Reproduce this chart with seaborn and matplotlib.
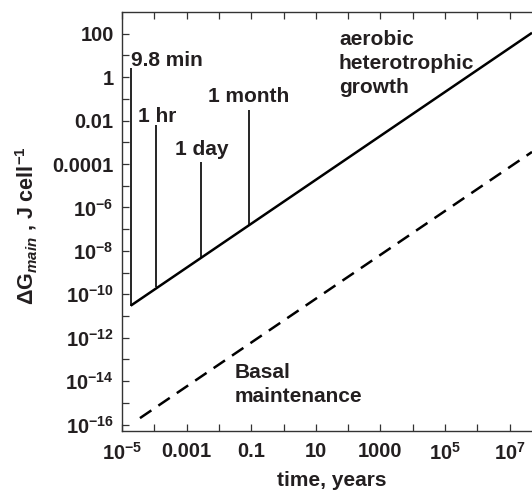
import numpy as np
import pandas as pd
import matplotlib
matplotlib.use("Agg")
import matplotlib.pyplot as plt
import seaborn as sns

# ---- data ----
growth_t = [1.86e-5, 4.9e7]          # years
growth_g = [3.0e-11, 1.1e2]          # J cell^-1
basal_t = [3.6e-5, 4.9e7]
basal_g = [2.0e-16, 3.6e-4]

marker_names = ["9.8 min", "1 hr", "1 day", "1 month"]
marker_t = [1.86e-5, 1.14e-4, 2.74e-3, 8.33e-2]
marker_bottom = [3.0e-11, 2.2e-10, 5.5e-9, 1.4e-7]
marker_top = [2.7, 6.4e-3, 1.3e-4, 3.0e-2]

xtick_exp = list(range(-5, 8))
xtick_labels = ["$10^{-5}$", "", "0.001", "", "0.1", "", "10", "", "1000", "",
                "$10^{5}$", "", "$10^{7}$"]
ytick_exp = list(range(-16, 3))
ytick_labels = ["$10^{-16}$", "", "$10^{-14}$", "", "$10^{-12}$", "", "$10^{-10}$", "",
                "$10^{-8}$", "", "$10^{-6}$", "", "0.0001", "", "0.01", "", "1", "", "100"]

sns.set_theme(style="ticks")
TXT = "#231f20"
plt.rcParams.update({
    "font.family": ["Liberation Sans", "DejaVu Sans"],
    "font.weight": "bold",
    "mathtext.fontset": "custom",
    "mathtext.rm": "Liberation Sans:bold",
    "mathtext.bf": "Liberation Sans:bold",
    "mathtext.it": "Liberation Sans:italic:bold",
    "mathtext.sf": "Liberation Sans:bold",
    "axes.unicode_minus": False,
})

fig = plt.figure(figsize=(5.32, 4.92), dpi=100)
ax = fig.add_axes([122/532, 1-431/492, 420/532, 419/492])

df_g = pd.DataFrame({"t": growth_t, "g": growth_g})
df_b = pd.DataFrame({"t": basal_t, "g": basal_g})
sns.lineplot(data=df_g, x="t", y="g", ax=ax, color="black", lw=1.8,
             solid_capstyle="butt")
sns.lineplot(data=df_b, x="t", y="g", ax=ax, color="black", lw=1.8,
             linestyle=(0, (5.5, 3.4)), dash_capstyle="butt")
ax.vlines(marker_t, marker_bottom, marker_top, color="black", lw=1.2)

ax.set_xscale("log")
ax.set_yscale("log")
ax.set_xlim(1e-5, 1e8)
ax.set_ylim(5.1e-17, 1e3)

ax.set_xticks([10.0**e for e in xtick_exp])
ax.set_xticklabels(xtick_labels)
ax.set_yticks([10.0**e for e in ytick_exp])
ax.set_yticklabels(ytick_labels)
ax.minorticks_off()
ax.tick_params(axis="both", direction="in", length=5.2, width=0.9, color="#333333",
               labelsize=14.5, labelcolor=TXT, pad=6)
ax.tick_params(axis="x", top=True, pad=8)
for s in ["left", "bottom", "top"]:
    ax.spines[s].set_color("#333333")
    ax.spines[s].set_linewidth(1.0)
ax.spines["right"].set_visible(False)

ax.set_xlabel("time, years", fontsize=15, fontweight="bold", color=TXT)
ax.set_ylabel(r"$\Delta$G$_{\mathit{main}}$ , J cell$^{-1}$", fontsize=15.5,
              fontweight="bold", color=TXT)
ax.xaxis.set_label_coords(0.5, -0.095)
ax.yaxis.set_label_coords(-0.195, 0.49)

# annotations
ann_x = [1.86e-5, 3.1e-5, 4.4e-4, 4.6e-3]
ann_y = [5.7, 0.015, 4.5e-4, 0.126]
for name, x, y in zip(marker_names, ann_x, ann_y):
    ax.text(x, y, name, fontsize=15, fontweight="bold", color=TXT,
            ha="left", va="center")
ax.text(52, 4.2, "aerobic\nheterotrophic\ngrowth", fontsize=15, fontweight="bold",
        color=TXT, ha="left", va="center", linespacing=1.35)
ax.text(0.0316, 7.0e-15, "Basal\nmaintenance", fontsize=15, fontweight="bold",
        color=TXT, ha="left", va="center", linespacing=1.35)

fig.savefig("out.png", dpi=100)
